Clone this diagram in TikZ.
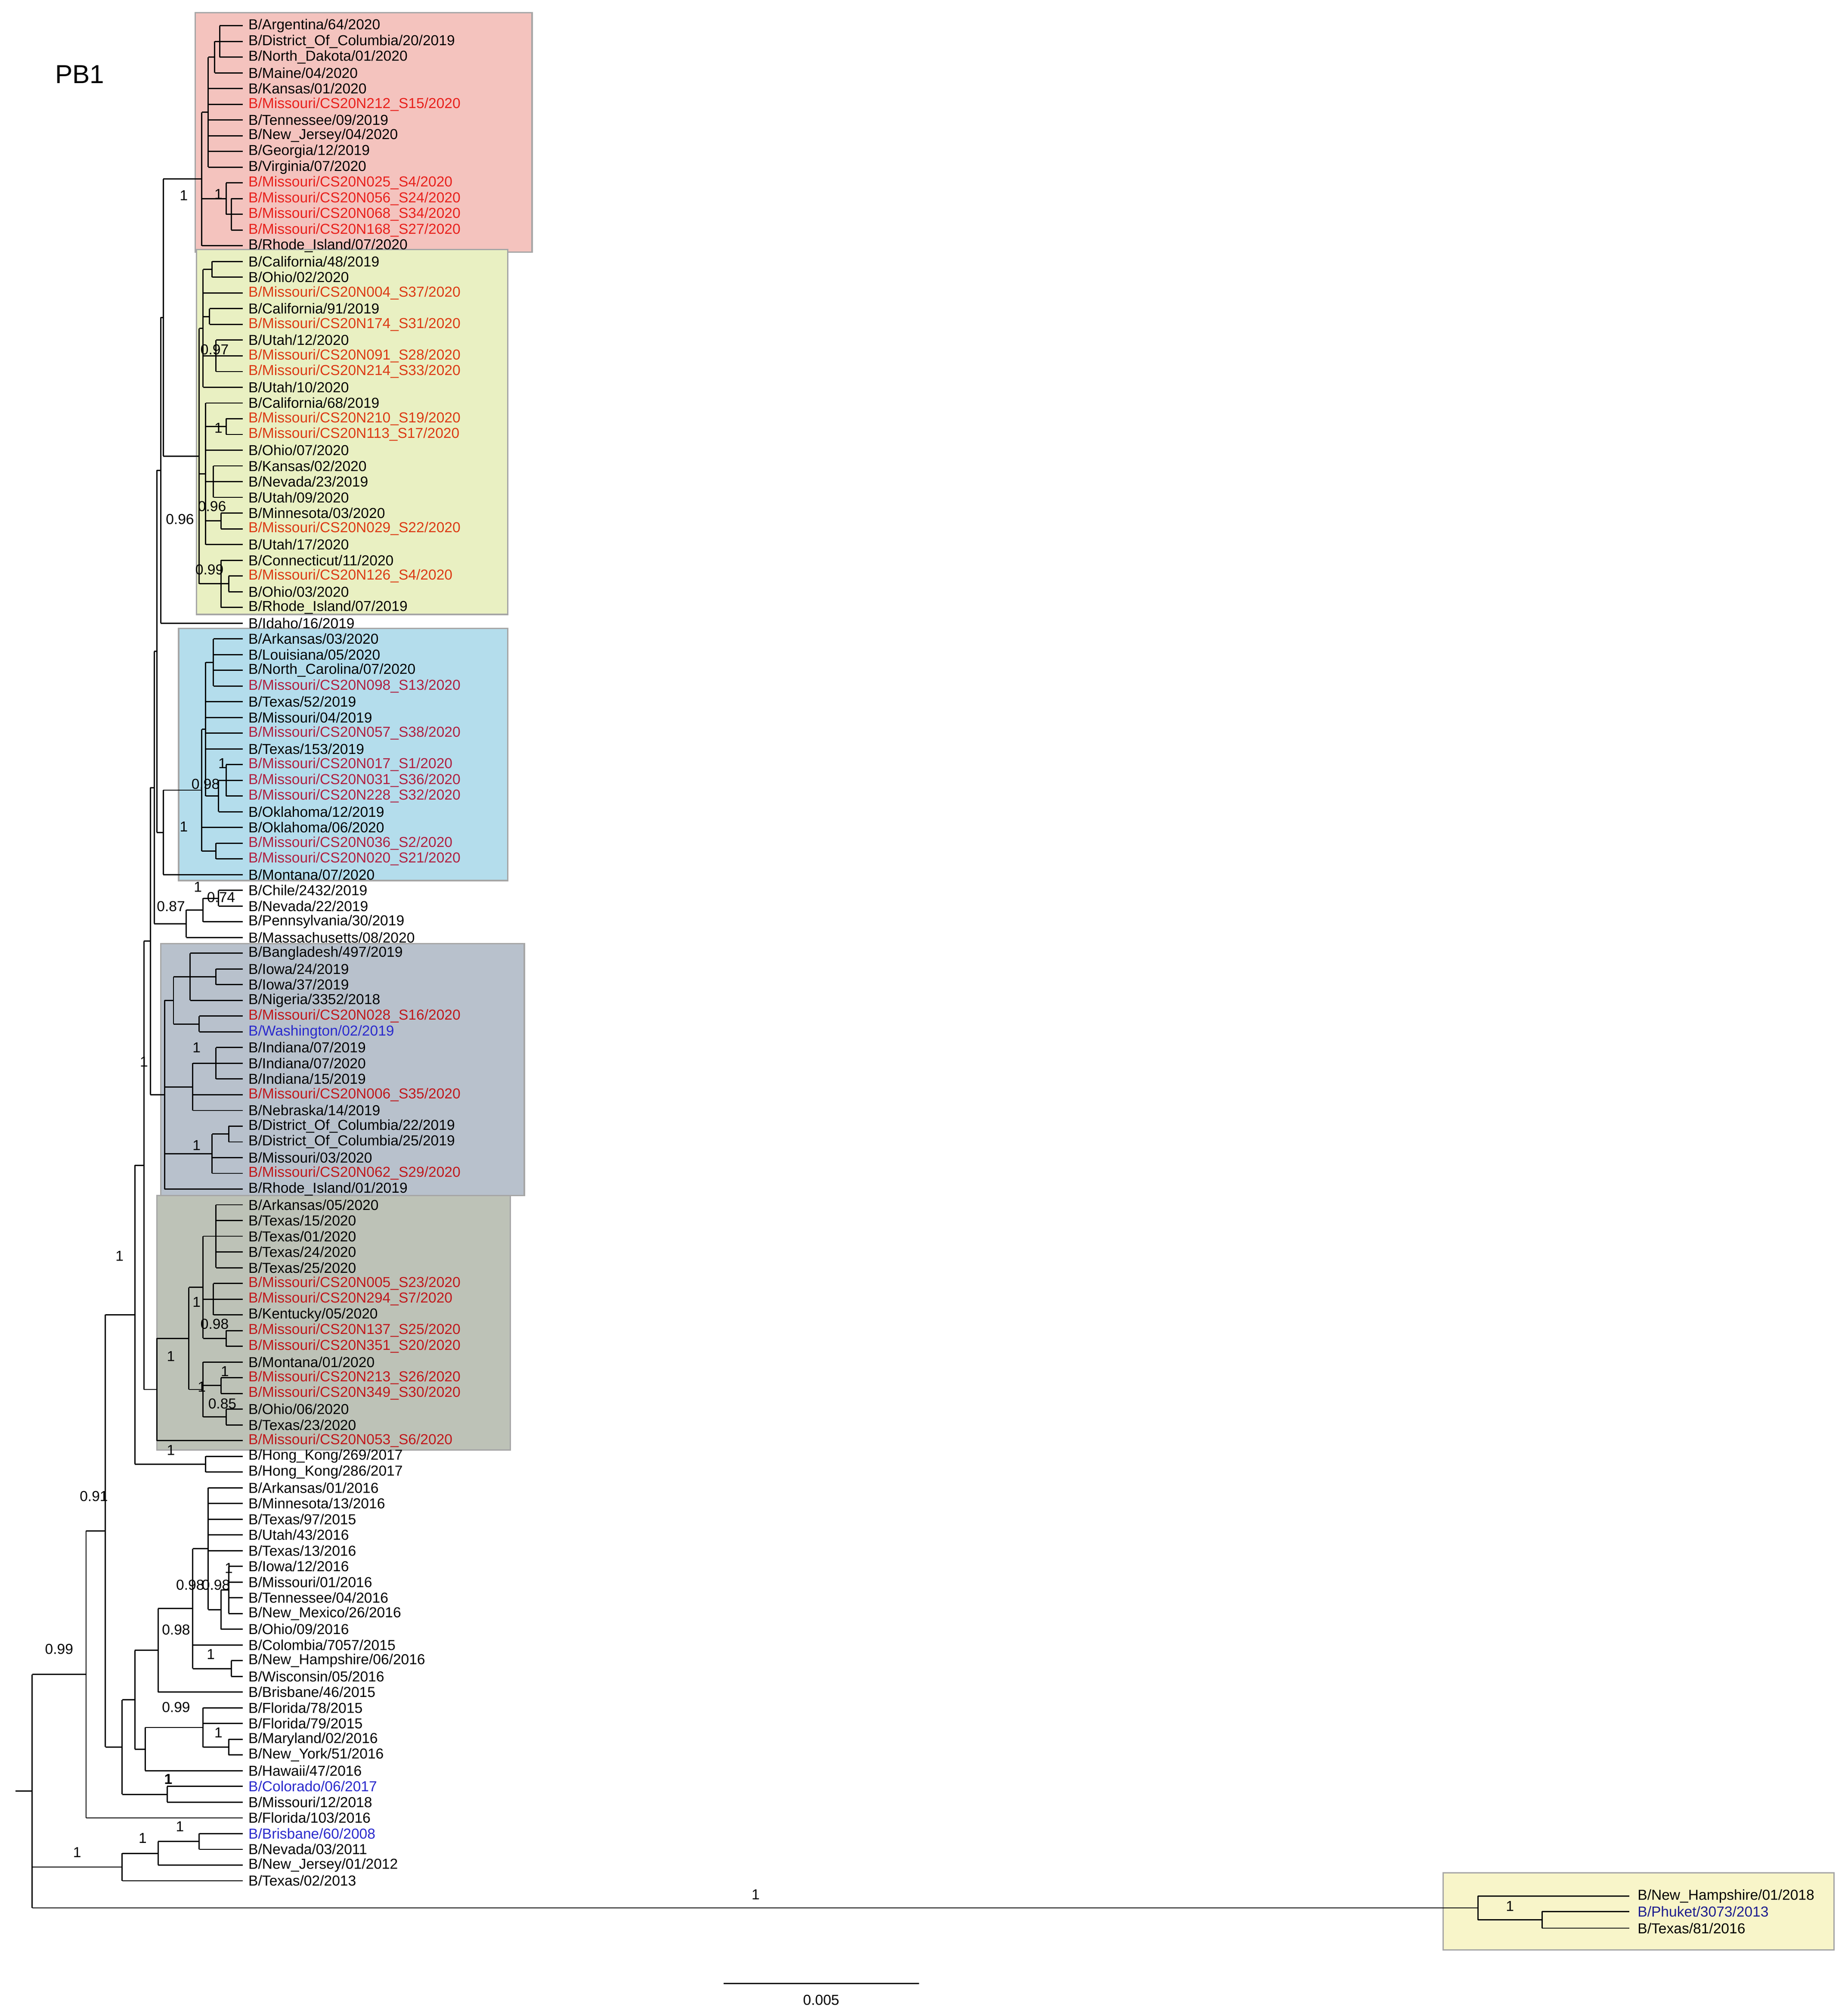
\documentclass[tikz,border=0pt]{standalone}
\usepackage{fontspec}
\setmainfont{Liberation Sans}
\usetikzlibrary{calc}
\definecolor{redA}{HTML}{E8201C}
\definecolor{oraA}{HTML}{DC3A14}
\definecolor{redB}{HTML}{B02040}
\definecolor{redC}{HTML}{C0181C}
\definecolor{bluA}{HTML}{2A2ACC}
\definecolor{bxR}{HTML}{F4C3BE}
\definecolor{bxY}{HTML}{E9F0C2}
\definecolor{bxB}{HTML}{B4DDEC}
\definecolor{bxS}{HTML}{B8C1CC}
\definecolor{bxG}{HTML}{BDC2B7}
\definecolor{bxO}{HTML}{F8F5C9}
\tikzset{br/.style={line width=0.55pt},
 leaf/.style={anchor=west,inner sep=0,font=\fontsize{6.4}{7}\selectfont},
 bs/.style={inner sep=0,font=\fontsize{6.4}{7}\selectfont},
 cbox/.style={draw=black!35,line width=0.6pt}}
\newcommand\lf[3]{\coordinate (L#1) at (189,{20+12.23*(#1-1)});
 \node[leaf,text=#3] (T#1) at (193,{20+12.23*(#1-1)}) {#2};}
\newcommand\clade[5]{%
 \coordinate (#1m) at ($(#3)!0.5!(#4)$);
 \coordinate (#1x) at (#2,0);
 \coordinate (#1) at (#1x |- #1m);
 \draw[br] (#1x |- #3) -- (#1x |- #4);
 \foreach \c in {#5} {\draw[br] (#1x |- \c) -- (\c);}}
\newcommand\supv[4]{\node[bs] (#1) at (#2,#3) {#4};}
\begin{document}
\begin{tikzpicture}[x=0.02cm,y=-0.02cm]
\path[use as bounding box] (0,0) rectangle (1438,1566);
\fill[bxR,cbox] (152,10) rectangle (414,196);
\fill[bxY,cbox] (153,194) rectangle (395,478);
\fill[bxB,cbox] (139,489) rectangle (395,685);
\fill[bxS,cbox] (125,734) rectangle (408,930);
\fill[bxG,cbox] (122,930) rectangle (397,1128);
\fill[bxO,cbox] (1123,1457) rectangle (1427,1517);
\node[font=\fontsize{11.5}{13}\selectfont] (title) at (62,58) {PB1};
\lf{1}{B/Argentina/64/2020}{black}
\lf{2}{B/District\_Of\_Columbia/20/2019}{black}
\lf{3}{B/North\_Dakota/01/2020}{black}
\lf{4}{B/Maine/04/2020}{black}
\lf{5}{B/Kansas/01/2020}{black}
\lf{6}{B/Missouri/CS20N212\_S15/2020}{redA}
\lf{7}{B/Tennessee/09/2019}{black}
\lf{8}{B/New\_Jersey/04/2020}{black}
\lf{9}{B/Georgia/12/2019}{black}
\lf{10}{B/Virginia/07/2020}{black}
\lf{11}{B/Missouri/CS20N025\_S4/2020}{redA}
\lf{12}{B/Missouri/CS20N056\_S24/2020}{redA}
\lf{13}{B/Missouri/CS20N068\_S34/2020}{redA}
\lf{14}{B/Missouri/CS20N168\_S27/2020}{redA}
\lf{15}{B/Rhode\_Island/07/2020}{black}
\lf{16}{B/California/48/2019}{black}
\lf{17}{B/Ohio/02/2020}{black}
\lf{18}{B/Missouri/CS20N004\_S37/2020}{oraA}
\lf{19}{B/California/91/2019}{black}
\lf{20}{B/Missouri/CS20N174\_S31/2020}{oraA}
\lf{21}{B/Utah/12/2020}{black}
\lf{22}{B/Missouri/CS20N091\_S28/2020}{oraA}
\lf{23}{B/Missouri/CS20N214\_S33/2020}{oraA}
\lf{24}{B/Utah/10/2020}{black}
\lf{25}{B/California/68/2019}{black}
\lf{26}{B/Missouri/CS20N210\_S19/2020}{oraA}
\lf{27}{B/Missouri/CS20N113\_S17/2020}{oraA}
\lf{28}{B/Ohio/07/2020}{black}
\lf{29}{B/Kansas/02/2020}{black}
\lf{30}{B/Nevada/23/2019}{black}
\lf{31}{B/Utah/09/2020}{black}
\lf{32}{B/Minnesota/03/2020}{black}
\lf{33}{B/Missouri/CS20N029\_S22/2020}{oraA}
\lf{34}{B/Utah/17/2020}{black}
\lf{35}{B/Connecticut/11/2020}{black}
\lf{36}{B/Missouri/CS20N126\_S4/2020}{oraA}
\lf{37}{B/Ohio/03/2020}{black}
\lf{38}{B/Rhode\_Island/07/2019}{black}
\lf{39}{B/Idaho/16/2019}{black}
\lf{40}{B/Arkansas/03/2020}{black}
\lf{41}{B/Louisiana/05/2020}{black}
\lf{42}{B/North\_Carolina/07/2020}{black}
\lf{43}{B/Missouri/CS20N098\_S13/2020}{redB}
\lf{44}{B/Texas/52/2019}{black}
\lf{45}{B/Missouri/04/2019}{black}
\lf{46}{B/Missouri/CS20N057\_S38/2020}{redB}
\lf{47}{B/Texas/153/2019}{black}
\lf{48}{B/Missouri/CS20N017\_S1/2020}{redB}
\lf{49}{B/Missouri/CS20N031\_S36/2020}{redB}
\lf{50}{B/Missouri/CS20N228\_S32/2020}{redB}
\lf{51}{B/Oklahoma/12/2019}{black}
\lf{52}{B/Oklahoma/06/2020}{black}
\lf{53}{B/Missouri/CS20N036\_S2/2020}{redB}
\lf{54}{B/Missouri/CS20N020\_S21/2020}{redB}
\lf{55}{B/Montana/07/2020}{black}
\lf{56}{B/Chile/2432/2019}{black}
\lf{57}{B/Nevada/22/2019}{black}
\lf{58}{B/Pennsylvania/30/2019}{black}
\lf{59}{B/Massachusetts/08/2020}{black}
\lf{60}{B/Bangladesh/497/2019}{black}
\lf{61}{B/Iowa/24/2019}{black}
\lf{62}{B/Iowa/37/2019}{black}
\lf{63}{B/Nigeria/3352/2018}{black}
\lf{64}{B/Missouri/CS20N028\_S16/2020}{redC}
\lf{65}{B/Washington/02/2019}{bluA}
\lf{66}{B/Indiana/07/2019}{black}
\lf{67}{B/Indiana/07/2020}{black}
\lf{68}{B/Indiana/15/2019}{black}
\lf{69}{B/Missouri/CS20N006\_S35/2020}{redC}
\lf{70}{B/Nebraska/14/2019}{black}
\lf{71}{B/District\_Of\_Columbia/22/2019}{black}
\lf{72}{B/District\_Of\_Columbia/25/2019}{black}
\lf{73}{B/Missouri/03/2020}{black}
\lf{74}{B/Missouri/CS20N062\_S29/2020}{redC}
\lf{75}{B/Rhode\_Island/01/2019}{black}
\lf{76}{B/Arkansas/05/2020}{black}
\lf{77}{B/Texas/15/2020}{black}
\lf{78}{B/Texas/01/2020}{black}
\lf{79}{B/Texas/24/2020}{black}
\lf{80}{B/Texas/25/2020}{black}
\lf{81}{B/Missouri/CS20N005\_S23/2020}{redC}
\lf{82}{B/Missouri/CS20N294\_S7/2020}{redC}
\lf{83}{B/Kentucky/05/2020}{black}
\lf{84}{B/Missouri/CS20N137\_S25/2020}{redC}
\lf{85}{B/Missouri/CS20N351\_S20/2020}{redC}
\lf{86}{B/Montana/01/2020}{black}
\lf{87}{B/Missouri/CS20N213\_S26/2020}{redC}
\lf{88}{B/Missouri/CS20N349\_S30/2020}{redC}
\lf{89}{B/Ohio/06/2020}{black}
\lf{90}{B/Texas/23/2020}{black}
\lf{91}{B/Missouri/CS20N053\_S6/2020}{redC}
\lf{92}{B/Hong\_Kong/269/2017}{black}
\lf{93}{B/Hong\_Kong/286/2017}{black}
\lf{94}{B/Arkansas/01/2016}{black}
\lf{95}{B/Minnesota/13/2016}{black}
\lf{96}{B/Texas/97/2015}{black}
\lf{97}{B/Utah/43/2016}{black}
\lf{98}{B/Texas/13/2016}{black}
\lf{99}{B/Iowa/12/2016}{black}
\lf{100}{B/Missouri/01/2016}{black}
\lf{101}{B/Tennessee/04/2016}{black}
\lf{102}{B/New\_Mexico/26/2016}{black}
\lf{103}{B/Ohio/09/2016}{black}
\lf{104}{B/Colombia/7057/2015}{black}
\lf{105}{B/New\_Hampshire/06/2016}{black}
\lf{106}{B/Wisconsin/05/2016}{black}
\lf{107}{B/Brisbane/46/2015}{black}
\lf{108}{B/Florida/78/2015}{black}
\lf{109}{B/Florida/79/2015}{black}
\lf{110}{B/Maryland/02/2016}{black}
\lf{111}{B/New\_York/51/2016}{black}
\lf{112}{B/Hawaii/47/2016}{black}
\lf{113}{B/Colorado/06/2017}{bluA}
\lf{114}{B/Missouri/12/2018}{black}
\lf{115}{B/Florida/103/2016}{black}
\lf{116}{B/Brisbane/60/2008}{bluA}
\lf{117}{B/Nevada/03/2011}{black}
\lf{118}{B/New\_Jersey/01/2012}{black}
\lf{119}{B/Texas/02/2013}{black}
\coordinate (L120) at (1268,1475); \node[leaf] (T120) at (1274,1475) {B/New\_Hampshire/01/2018};
\coordinate (L121) at (1268,1487); \node[leaf,text=bluA!70!black] (T121) at (1274,1487) {B/Phuket/3073/2013};
\coordinate (L122) at (1268,1500); \node[leaf] (T122) at (1274,1500) {B/Texas/81/2016};
% red
\clade{Rr3}{171}{L1}{L3}{L1,L2,L3}
\clade{Rr2}{167}{Rr3}{L4}{Rr3,L4}
\clade{Rr1}{162}{Rr2}{L10}{Rr2,L5,L6,L7,L8,L9,L10}
\clade{R11b}{180}{L12}{L14}{L12,L13,L14}
\clade{R11}{176}{L11}{R11b}{L11,R11b}
\clade{Cred}{157}{Rr1}{L15}{Rr1,R11,L15}
% yellow
\clade{Y1a}{165}{L16}{L17}{L16,L17}
\clade{Y1b}{163}{L19}{L20}{L19,L20}
\clade{Y1c}{168}{L21}{L23}{L21,L22,L23}
\clade{Y1}{158}{Y1a}{L24}{Y1a,L18,Y1b,Y1c,L24}
\clade{Y2a}{176}{L26}{L27}{L26,L27}
\clade{Y2b}{166}{L29}{L31}{L29,L30,L31}
\clade{Y2c}{172}{L32}{L33}{L32,L33}
\clade{Y2}{160}{L25}{L34}{L25,Y2a,L28,Y2b,Y2c,L34}
\clade{Y3a}{178}{L36}{L37}{L36,L37}
\clade{Y3}{172}{L35}{L38}{L35,Y3a,L38}
\clade{Cyel}{155}{Y1}{Y3}{Y1,Y2,Y3}
% blue
\clade{B1a}{166}{L40}{L43}{L40,L41,L42,L43}
\clade{B1c}{176}{L48}{L50}{L48,L49,L50}
\clade{B1b}{170}{B1c}{L51}{B1c,L51}
\clade{B1}{160}{B1a}{B1b}{B1a,L44,L45,L46,L47,B1b}
\clade{B2}{168}{L53}{L54}{L53,L54}
\clade{Bx}{157}{B1}{B2}{B1,L52,B2}
\clade{Cblue}{127}{Bx}{L55}{Bx,L55}
% chile
\clade{Cch2}{170}{L56}{L57}{L56,L57}
\clade{Cch1}{158}{Cch2}{L58}{Cch2,L58}
\clade{Cch}{145}{Cch1}{L59}{Cch1,L59}
% slate
\clade{Sa2}{168}{L61}{L62}{L61,L62}
\clade{Sa1}{148}{L60}{L63}{L60,Sa2,L63}
\clade{Sa3}{155}{L64}{L65}{L64,L65}
\clade{Sa}{135}{Sa1}{Sa3}{Sa1,Sa3}
\clade{Sb1}{168}{L66}{L68}{L66,L67,L68}
\clade{Sb}{150}{Sb1}{L70}{Sb1,L69,L70}
\clade{Sc1}{178}{L71}{L72}{L71,L72}
\clade{Sc}{165}{Sc1}{L74}{Sc1,L73,L74}
\clade{Cslate}{128}{Sa}{L75}{Sa,Sb,Sc,L75}
% gray
\clade{Ga1}{168}{L76}{L80}{L76,L77,L78,L79,L80}
\clade{Ga2}{166}{L81}{L83}{L81,L82,L83}
\clade{Ga3}{176}{L84}{L85}{L84,L85}
\clade{Ga}{158}{Ga1}{Ga3}{Ga1,Ga2,Ga3}
\clade{Gb1}{172}{L87}{L88}{L87,L88}
\clade{Gb2}{176}{L89}{L90}{L89,L90}
\clade{Gb}{158}{L86}{Gb2}{L86,Gb1,Gb2}
\clade{G}{147}{Ga}{Gb}{Ga,Gb}
\clade{Cgray}{122}{G}{L91}{G,L91}
\clade{HK}{160}{L92}{L93}{L92,L93}
% older
\clade{Co9}{178}{L99}{L102}{L99,L100,L101,L102}
\clade{Co8}{172}{Co9}{L103}{Co9,L103}
\clade{Co6}{162}{L94}{Co8}{L94,L95,L96,L97,L98,Co8}
\clade{Co7}{180}{L105}{L106}{L105,L106}
\clade{Co5}{150}{Co6}{Co7}{Co6,L104,Co7}
\clade{Co3}{123}{Co5}{L107}{Co5,L107}
\clade{Co11}{178}{L110}{L111}{L110,L111}
\clade{Co10}{158}{L108}{Co11}{L108,L109,Co11}
\clade{Co4}{113}{Co10}{L112}{Co10,L112}
\clade{Co1}{105}{Co3}{Co4}{Co3,Co4}
\clade{Co2}{130}{L113}{L114}{L113,L114}
\clade{Colder}{95}{Co1}{Co2}{Co1,Co2}
% backbone
\clade{Cu4}{127}{Cred}{Cyel}{Cred,Cyel}
\clade{Ctop}{125}{Cu4}{L39}{Cu4,L39}
\clade{Cu3}{122}{Ctop}{Cblue}{Ctop,Cblue}
\clade{Cu2}{120}{Cu3}{Cch}{Cu3,Cch}
\clade{Cup}{117}{Cu2}{Cslate}{Cu2,Cslate}
\clade{Cmain}{112}{Cup}{Cgray}{Cup,Cgray}
\clade{C1a}{105}{Cmain}{HK}{Cmain,HK}
\clade{C091}{82}{C1a}{Colder}{C1a,Colder}
\clade{Cbig}{67}{C091}{L115}{C091,L115}
\clade{Cb2}{155}{L116}{L117}{L116,L117}
\clade{Cb1}{123}{Cb2}{L118}{Cb2,L118}
\clade{Cbris}{95}{Cb1}{L119}{Cb1,L119}
\clade{Out2}{1200}{L121}{L122}{L121,L122}
\clade{Out}{1150}{L120}{Out2}{L120,Out2}
\clade{R}{25}{Cbig}{Out}{Cbig,Cbris,Out}
\coordinate (rs) at ([xshift=-0.26cm]R);
\draw[br] (rs) -- (R);
% support values
\supv{s1}{143}{152}{1}\supv{s2}{170}{151}{1}\supv{s3}{167}{272}{0.97}
\supv{s4}{170}{333}{1}\supv{s5}{140}{404}{0.96}\supv{s6}{165}{394}{0.96}
\supv{s7}{163}{443}{0.99}\supv{s8}{173}{594}{1}\supv{s9}{160}{610}{0.98}
\supv{s10}{143}{643}{1}\supv{s11}{154}{690}{1}\supv{s12}{172}{698}{0.74}
\supv{s13}{133}{705}{0.87}\supv{s14}{153}{815}{1}\supv{s15}{112}{826}{1}
\supv{s16}{153}{891}{1}\supv{s17}{93}{977}{1}\supv{s18}{153}{1013}{1}
\supv{s19}{167}{1030}{0.98}\supv{s20}{133}{1055}{1}\supv{s21}{175}{1067}{1}
\supv{s22}{157}{1079}{1}\supv{s23}{173}{1092}{0.85}\supv{s24}{133}{1128}{1}
\supv{s25}{73}{1164}{0.91}\supv{s26}{178}{1220}{1}\supv{s27}{148}{1233}{0.98}
\supv{s28}{168}{1233}{0.98}\supv{s29}{137}{1268}{0.98}\supv{s30}{164}{1287}{1}
\supv{s31}{46}{1283}{0.99}\supv{s32}{137}{1328}{0.99}\supv{s33}{170}{1348}{1}
\supv{s34}{131}{1384}{\textbf{1}}\supv{s35}{140}{1421}{1}\supv{s36}{111}{1430}{1}
\supv{s37}{60}{1441}{1}\supv{s38}{588}{1474}{1}\supv{s39}{1175}{1483}{1}
% scale bar
\coordinate (sb1) at (563,1543); \coordinate (sb2) at (715,1543);
\draw[br] (sb1) -- (sb2);
\node[bs] (sbl) at (639,1556) {0.005};
\end{tikzpicture}
\end{document}
